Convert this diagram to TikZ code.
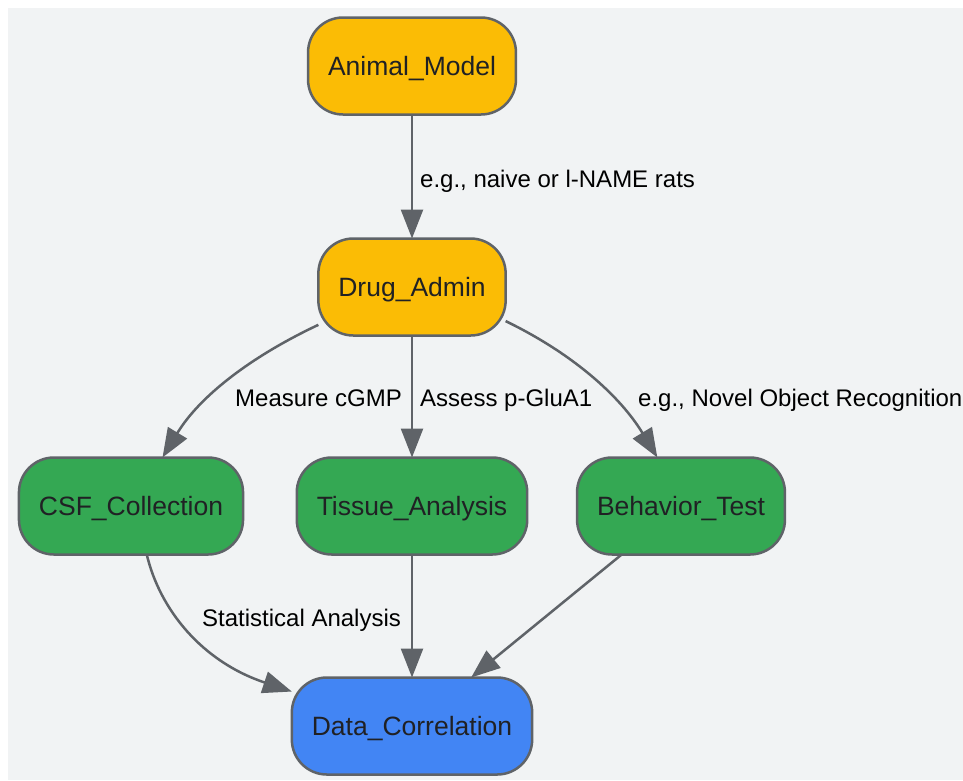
\documentclass[tikz,border=0pt]{standalone}
\usepackage{fontspec}
\setmainfont{Liberation Sans}
\usetikzlibrary{arrows.meta}
\definecolor{bgc}{HTML}{F1F3F4}
\definecolor{yel}{HTML}{FBBC05}
\definecolor{grn}{HTML}{34A853}
\definecolor{blu}{HTML}{4285F4}
\definecolor{edg}{HTML}{5F6368}
\definecolor{txt}{HTML}{202124}
\begin{document}
\begin{tikzpicture}[x=1pt,y=-1pt,
  box/.style={draw=edg, line width=2.5pt, rounded corners=35pt, minimum height=97pt,
    inner xsep=20pt, outer sep=0pt, text=txt, text height=19pt, text depth=0pt,
    font=\fontsize{26.5}{30}\selectfont},
  yelbox/.style={box, fill=yel},
  grnbox/.style={box, fill=grn},
  blubox/.style={box, fill=blu},
  conn/.style={draw=edg, line width=2.5pt, -{Triangle[length=29pt,width=22pt]}},
  lbl/.style={anchor=west, inner sep=0pt, text=black, text height=17pt, text depth=0pt,
    font=\fontsize{24}{28}\selectfont}]
\useasboundingbox (0,0) rectangle (963,780);
\fill[white] (0,0) rectangle (963,780);
\fill[bgc] (8,8) rectangle (963,780);

\node[yelbox] (animal) at (412,66) {Animal\_Model};
\node[yelbox] (drug) at (412,287) {Drug\_Admin};
\node[grnbox] (csf) at (131,506) {CSF\_Collection};
\node[grnbox] (tissue) at (412,506) {Tissue\_Analysis};
\node[grnbox] (behav) at (681,506) {Behavior\_Test};
\node[blubox] (data) at (412,726) {Data\_Correlation};

\draw[conn] (animal) -- (drug);
\draw[conn] (drug.202) .. controls +(-68,32) and +(37,-61) .. (csf.57);
\draw[conn] (drug) -- (tissue);
\draw[conn] (drug.340) .. controls +(68,33) and +(-37,-61) .. (behav.116);
\draw[conn] (csf.288) .. controls +(13,55) and +(-90,-30) .. (data.164);
\draw[conn] (tissue) -- (data);
\draw[conn] (behav) -- (data);

\node[lbl] (l1) at (420,179) {e.g., naive or l-NAME rats};
\node[lbl] (l2) at (235,398) {Measure cGMP};
\node[lbl] (l3) at (420,398) {Assess p-GluA1};
\node[lbl] (l4) at (638,398) {e.g., Novel Object Recognition};
\node[lbl] (l5) at (202,618) {Statistical Analysis};
\end{tikzpicture}
\end{document}
